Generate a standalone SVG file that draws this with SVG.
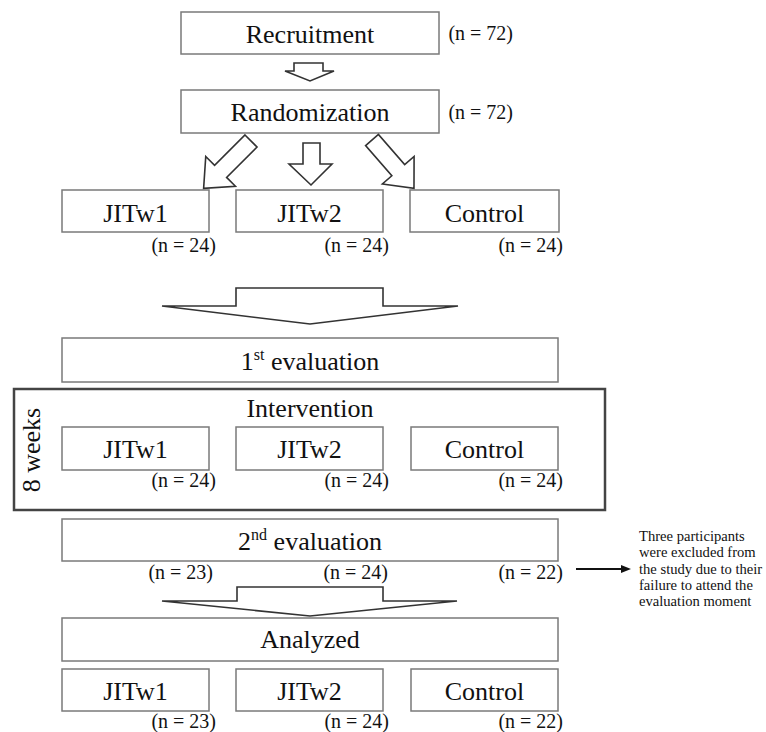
<svg xmlns="http://www.w3.org/2000/svg" width="766" height="732" viewBox="0 0 766 732">
<style>
.box{fill:#fff;stroke:#7a7a7a;stroke-width:1.5}
.big{fill:#fff;stroke:#444;stroke-width:2.5}
.t{font-family:'Liberation Serif','DejaVu Serif','Times New Roman',serif;font-size:26px;fill:#111;text-anchor:middle}
.n{font-family:'Liberation Serif','DejaVu Serif','Times New Roman',serif;font-size:20px;fill:#111;text-anchor:end}
.s{font-family:'Liberation Serif','DejaVu Serif','Times New Roman',serif;font-size:14.6px;fill:#111}
.arr{fill:#fff;stroke:#333;stroke-width:1.6;stroke-linejoin:miter}
</style>
<rect width="766" height="732" fill="#fff"/>
<g id="recruitment">
<rect class="box" x="181" y="12" width="258" height="42"/>
<text class="t" x="310" y="43">Recruitment</text>
<text class="n" x="513" y="40">(n = 72)</text>
</g>
<g id="randomization">
<rect class="box" x="181" y="90" width="258" height="43"/>
<text class="t" x="310" y="121">Randomization</text>
<text class="n" x="513" y="119">(n = 72)</text>
</g>
<g id="alloc-jitw1">
<rect class="box" x="62" y="190" width="147" height="42"/>
<text class="t" x="135.5" y="222">JITw1</text>
<text class="n" x="216" y="252">(n = 24)</text>
</g>
<g id="alloc-jitw2">
<rect class="box" x="236" y="190" width="147" height="42"/>
<text class="t" x="309.5" y="222">JITw2</text>
<text class="n" x="389" y="252">(n = 24)</text>
</g>
<g id="alloc-control">
<rect class="box" x="410" y="190" width="149" height="42"/>
<text class="t" x="484.5" y="222">Control</text>
<text class="n" x="563" y="252">(n = 24)</text>
</g>
<g id="eval1">
<rect class="box" x="62" y="338" width="496" height="44"/>
<text class="t" x="310" y="370">1<tspan font-size="16" dy="-10">st</tspan><tspan dy="10"> evaluation</tspan></text>
</g>
<g id="intervention">
<rect class="big" x="14" y="389" width="591" height="121"/>
<text class="t" x="310" y="417">Intervention</text>
<text class="t" x="0" y="0" font-size="20" transform="translate(40,450) rotate(-90)">8 weeks</text>
</g>
<g id="int-jitw1">
<rect class="box" x="62" y="427" width="147" height="43"/>
<text class="t" x="135.5" y="458">JITw1</text>
<text class="n" x="216" y="487">(n = 24)</text>
</g>
<g id="int-jitw2">
<rect class="box" x="236" y="427" width="147" height="43"/>
<text class="t" x="309.5" y="458">JITw2</text>
<text class="n" x="389" y="487">(n = 24)</text>
</g>
<g id="int-control">
<rect class="box" x="411" y="427" width="147" height="43"/>
<text class="t" x="484.5" y="458">Control</text>
<text class="n" x="563" y="487">(n = 24)</text>
</g>
<g id="eval2">
<rect class="box" x="62" y="519" width="496" height="42"/>
<text class="t" x="310" y="550">2<tspan font-size="16" dy="-10">nd</tspan><tspan dy="10"> evaluation</tspan></text>
<text class="n" x="213" y="579">(n = 23)</text>
<text class="n" x="388" y="579">(n = 24)</text>
<text class="n" x="563" y="579">(n = 22)</text>
</g>
<g id="exclusion">
<text class="s" x="639" y="541">Three participants</text>
<text class="s" x="639" y="557">were excluded from</text>
<text class="s" x="639" y="573.5">the study due to their</text>
<text class="s" x="639" y="590">failure to attend the</text>
<text class="s" x="639" y="606">evaluation moment</text>
</g>
<g id="analyzed">
<rect class="box" x="62" y="618" width="496" height="43"/>
<text class="t" x="310" y="648">Analyzed</text>
</g>
<g id="an-jitw1">
<rect class="box" x="62" y="669" width="147" height="42"/>
<text class="t" x="135.5" y="700">JITw1</text>
<text class="n" x="216" y="728">(n = 23)</text>
</g>
<g id="an-jitw2">
<rect class="box" x="236" y="669" width="147" height="42"/>
<text class="t" x="309.5" y="700">JITw2</text>
<text class="n" x="389" y="728">(n = 24)</text>
</g>
<g id="an-control">
<rect class="box" x="411" y="669" width="147" height="42"/>
<text class="t" x="484.5" y="700">Control</text>
<text class="n" x="563" y="728">(n = 22)</text>
</g>
<g id="connectors">
<path class="arr" d="M294,63 L323,63 L323,71 L334,71 L310,81 L285,71 L294,71 Z"/>
<path class="arr" d="M-8.5,0 L8.5,0 L8.5,43 L21,43 L0,67 L-21,43 L-8.5,43 Z" transform="translate(251,141) rotate(45)"/>
<path class="arr" d="M303,143 L320,143 L320,164 L332,164 L311,185 L289,164 L303,164 Z"/>
<path class="arr" d="M-8.5,0 L8.5,0 L8.5,40 L21,40 L0,64 L-21,40 L-8.5,40 Z" transform="translate(372,140) rotate(-41)"/>
<path class="arr" d="M236,288 L383,288 L383,306 L458,306 L310,324 L162,306 L236,306 Z"/>
<path class="arr" d="M237,587 L383,587 L383,601 L457,601 L310,616 L162,601 L237,601 Z"/>
<line x1="576" y1="569" x2="623" y2="569" stroke="#111" stroke-width="2"/>
<polygon points="621,565 631,569 621,573" fill="#111"/>
</g>
</svg>
